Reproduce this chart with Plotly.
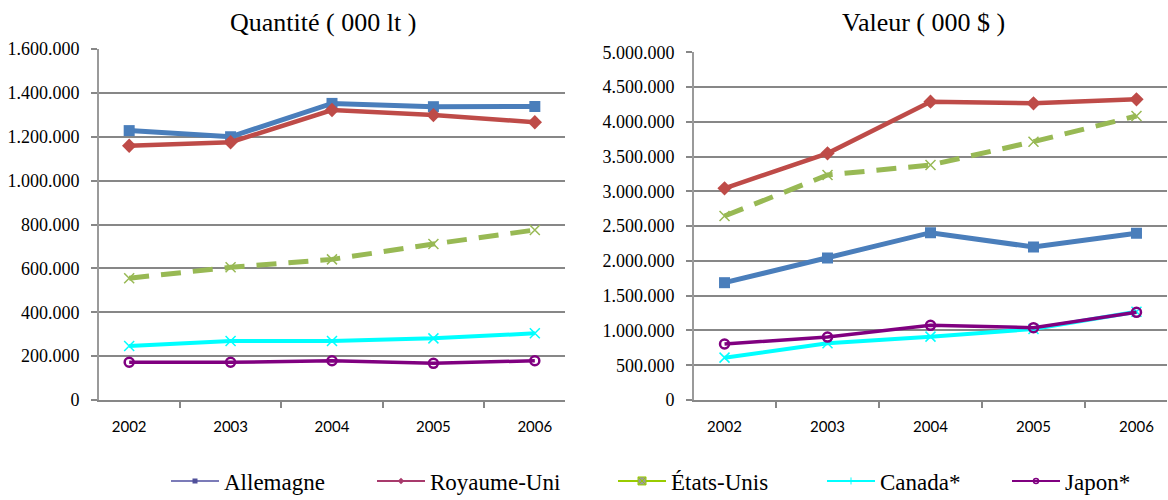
import plotly.graph_objects as go

years = ["2002", "2003", "2004", "2005", "2006"]
series_names = ["Allemagne", "Royaume-Uni", "États-Unis", "Canada*", "Japon*"]

# Quantité ( 000 lt )
qty_allemagne = [1228000, 1200000, 1352000, 1337000, 1338000]
qty_royaume_uni = [1159000, 1175000, 1322000, 1299000, 1266000]
qty_etats_unis = [555000, 605000, 641000, 711000, 775000]
qty_canada = [246000, 269000, 269000, 281000, 304000]
qty_japon = [172000, 172000, 179000, 167000, 179000]

# Valeur ( 000 $ )
val_allemagne = [1687000, 2042000, 2406000, 2200000, 2397000]
val_royaume_uni = [3044000, 3547000, 4290000, 4266000, 4324000]
val_etats_unis = [2646000, 3236000, 3379000, 3715000, 4084000]
val_canada = [609000, 815000, 911000, 1021000, 1270000]
val_japon = [805000, 905000, 1074000, 1040000, 1261000]

titles = ["Quantité ( 000 lt )", "Valeur ( 000 $ )"]

qty = [qty_allemagne, qty_royaume_uni, qty_etats_unis, qty_canada, qty_japon]
val = [val_allemagne, val_royaume_uni, val_etats_unis, val_canada, val_japon]

SERIF = "Liberation Serif, Times New Roman, serif"

styles = [
    dict(line=dict(color="#4a7ebb", width=5), marker=dict(symbol="square", size=11, color="#4a7ebb")),
    dict(line=dict(color="#be4b48", width=4.5), marker=dict(symbol="diamond", size=11, color="#be4b48")),
    dict(line=dict(color="#98b954", width=5, dash="20px,12px"),
         marker=dict(symbol="x-thin-open", size=10, color="#98b954", line=dict(color="#98b954", width=1.5))),
    dict(line=dict(color="#00ffff", width=4),
         marker=dict(symbol="x-thin-open", size=10, color="#00ffff", line=dict(color="#00ffff", width=1.5))),
    dict(line=dict(color="#800080", width=3.5),
         marker=dict(symbol="circle-open", size=9, color="#800080", line=dict(color="#800080", width=2.5))),
]

legend_styles = [
    dict(line=dict(color="#7b7bb8", width=2), marker=dict(symbol="square", size=5, color="#50509a")),
    dict(line=dict(color="#a83a6c", width=2), marker=dict(symbol="diamond", size=5, color="#a83a6c")),
    dict(line=dict(color="#99cc00", width=2), marker=dict(symbol="square-x", size=8, color="#9a9a9a",
                                                       line=dict(color="#99cc00", width=1))),
    dict(line=dict(color="#00ffff", width=2), marker=dict(symbol="line-ns", size=5, color="#00ffff",
                                                       line=dict(color="#00ffff", width=1))),
    dict(line=dict(color="#800080", width=2), marker=dict(symbol="circle-open", size=5, color="#800080",
                                                       line=dict(color="#800080", width=1.5))),
]

fig = go.Figure()

for i, name in enumerate(series_names):
    fig.add_trace(go.Scatter(x=years, y=qty[i], name=name, mode="lines+markers",
                             xaxis="x", yaxis="y", showlegend=False, **styles[i]))
for i, name in enumerate(series_names):
    fig.add_trace(go.Scatter(x=years, y=val[i], name=name, mode="lines+markers",
                             xaxis="x2", yaxis="y2", showlegend=False, **styles[i]))

legend_keys = ["legend", "legend2", "legend3", "legend4", "legend5"]
legend_x_px = [166, 372, 613, 822, 1007]
for i, name in enumerate(series_names):
    fig.add_trace(go.Scatter(x=[None], y=[None], name=name, mode="lines+markers",
                             xaxis="x", yaxis="y", showlegend=True, legend=legend_keys[i],
                             **legend_styles[i]))

grid = "#878787"
W, H = 1168, 500

common_x = dict(type="category", showline=True, linecolor=grid, linewidth=2, automargin=False,
                ticks="outside", tickson="boundaries", ticklen=6, tickcolor=grid, tickwidth=2,
                showgrid=False, zeroline=False, ticklabelstandoff=12,
                tickfont=dict(family="Lato", size=15, color="#000000"), fixedrange=True)
common_y = dict(showline=True, linecolor="#9a9a9a", linewidth=2, ticks="outside", ticklen=6,
                automargin=False,
                tickcolor=grid, tickwidth=2, showgrid=True, gridcolor=grid, gridwidth=2,
                zeroline=False, tickformat=",.0f", ticklabelstandoff=8,
                tickfont=dict(family=SERIF, size=18, color="#000000"))

layout = dict(
    width=W, height=H,
    margin=dict(l=0, r=0, t=0, b=0, autoexpand=False),
    paper_bgcolor="white", plot_bgcolor="white",
    separators=",.",
    xaxis=dict(domain=[99 / W, 565 / W], anchor="y", **common_x),
    yaxis=dict(domain=[0.2, 451 / H], anchor="x", range=[0, 1600000], dtick=200000, **common_y),
    xaxis2=dict(domain=[694 / W, 1167 / W], anchor="y2", **common_x),
    yaxis2=dict(domain=[0.2, 447.7 / H], anchor="x2", range=[0, 5000000], dtick=500000, **common_y),
    annotations=[
        dict(text=titles[0], x=323 / W, y=1 - 22 / H, xref="paper", yref="paper",
             xanchor="center", yanchor="middle", showarrow=False,
             font=dict(family=SERIF, size=26, color="#000000")),
        dict(text=titles[1], x=923 / W, y=1 - 22 / H, xref="paper", yref="paper",
             xanchor="center", yanchor="middle", showarrow=False,
             font=dict(family=SERIF, size=26, color="#000000")),
    ],
)
for k, xp in zip(legend_keys, legend_x_px):
    layout[k] = dict(x=xp / W, y=1 - 481 / H, xanchor="left", yanchor="middle",
                     orientation="h", bgcolor="rgba(0,0,0,0)", itemwidth=48,
                     font=dict(family=SERIF, size=23, color="#000000"))

fig.update_layout(**layout)

fig.write_html("out.html",
               config={"displayModeBar": False},
               post_script="document.body.style.margin='0';document.body.style.overflow='hidden';")
